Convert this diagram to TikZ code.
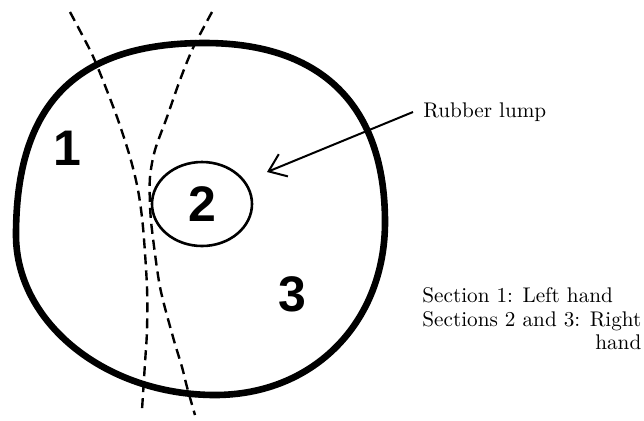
\documentclass[tikz,border=0pt]{standalone}
\usepackage{fontspec}
\newfontfamily\digitfont{Liberation Sans}
\usepackage{tikz}
\usetikzlibrary{arrows.meta,positioning,shapes.geometric}

\begin{document}
\begin{tikzpicture}[x=0.5pt,y=-0.5pt,
  rim/.style={line width=3.3pt,line join=round},
  cut/.style={line width=1.2pt,dash pattern=on 5pt off 3pt},
  digit/.style={font=\fontsize{25}{25}\selectfont\digitfont\bfseries,inner sep=0pt},
  caption/.style={font=\fontsize{10.6}{11.5}\selectfont,inner sep=0pt}]
\useasboundingbox (0,0) rectangle (644,420);

% the ball
\coordinate (top) at (205,43);
\coordinate (right) at (385,222);
\coordinate (bottom) at (215,395);
\coordinate (left) at (16,235);
\draw[rim] (top) .. controls (322,43) and (385,106) .. (right)
  .. controls (385,322) and (314,395) .. (bottom)
  .. controls (106,395) and (16,323) .. (left)
  .. controls (16,104) and (76,43) .. cycle;

% section borders
\draw[cut] plot[smooth] coordinates {(70,12) (90,50) (100,73) (117,117) (130,157) (138,190) (143,227) (147,287) (147,330) (145,363) (142,410)};
\draw[cut] plot[smooth] coordinates {(212,12) (193,48) (180,80) (167,117) (155,150) (150,177) (150,205) (152,230) (160,287) (173,337) (182,367) (187,387) (195,415)};

\node[draw,ellipse,line width=1.3pt,minimum width=50pt,minimum height=42pt,digit] (lump) at (202,204) {2};
\foreach \name/\pos/\num in {one/{(67,148)}/1, three/{(292,294)}/3}
  \node[digit] (\name) at \pos {\num};

\node[caption,anchor=west] (lumptext) at (423,112) {Rubber lump};
\coordinate (tip) at (267,172);
\draw[line width=1pt,-{Straight Barb[length=8pt,width=12pt]}] ([xshift=-5pt]lumptext.west) -- (tip);

\node[caption,anchor=base west] (sec1) at (422,302) {Section 1: Left hand};
\node[caption,align=right,below=4.1pt of sec1.south west,anchor=north west] (sec23) {Sections 2 and 3: Right\\hand};
\end{tikzpicture}
\end{document}
